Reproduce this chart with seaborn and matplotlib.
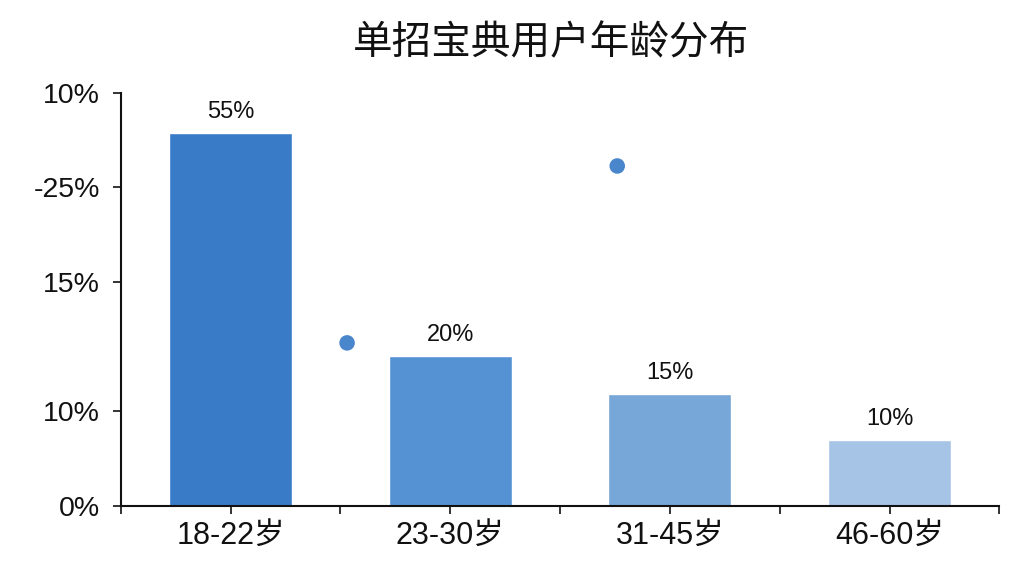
import matplotlib
matplotlib.use("Agg")
import matplotlib.pyplot as plt
import numpy as np
import pandas as pd
import seaborn as sns

# categories and values
age_groups = ["18-22岁", "23-30岁", "31-45岁", "46-60岁"]
bar_heights = [54.2, 21.8, 16.3, 9.6]
bar_labels = ["55%", "20%", "15%", "10%"]
bar_colors = ["#3a7bc8", "#5592d4", "#77a6d8", "#a6c4e6"]

# stray dots
dot_x = [0.53, 1.76]
dot_y = [23.7, 49.4]

# y ticks (positions on the drawn scale and their printed labels)
ytick_pos = [0, 13.8, 32.5, 46.3, 60]
ytick_labels = ["0%", "10%", "15%", "-25%", "10%"]

sns.set_theme(style="white")
plt.rcParams["font.family"] = ["Liberation Sans", "Noto Sans CJK SC", "DejaVu Sans"]

fig = plt.figure(figsize=(10.24, 5.76), dpi=100)
ax = fig.add_axes([0.118, 0.1215, 0.858, 0.717])

df = pd.DataFrame({"age": age_groups, "share": bar_heights})
sns.barplot(data=df, x="age", y="share", hue="age", palette=bar_colors,
            width=0.56, legend=False, ax=ax, saturation=1)

for i, (h, lab) in enumerate(zip(bar_heights, bar_labels)):
    ax.text(i, h + 1.4, lab, ha="center", va="bottom", fontsize=17, color="#111111")

sns.scatterplot(x=dot_x, y=dot_y, color="#4a86cc", s=125, edgecolor="none", ax=ax)

ax.set_xlim(-0.5, 3.5)
ax.set_ylim(0, 60)
ax.set_yticks(ytick_pos)
ax.set_yticklabels(ytick_labels)
ax.set_xticks(range(len(age_groups)))
ax.set_xticklabels(age_groups)
ax.set_xticks(np.arange(-0.5, 4.0, 1.0), minor=True)
ax.set_xlabel("")
ax.set_ylabel("")

ax.tick_params(axis="y", labelsize=20.5, length=6, width=1.2, direction="out",
               left=True, colors="#111111", pad=9)
ax.tick_params(axis="x", which="major", labelsize=22, length=6, width=1.2,
               bottom=True, colors="#111111", pad=5)
ax.tick_params(axis="x", which="minor", length=6, width=1.2, bottom=True, color="#111111")

for side in ["top", "right"]:
    ax.spines[side].set_visible(False)
for side in ["left", "bottom"]:
    ax.spines[side].set_color("#111111")
    ax.spines[side].set_linewidth(1.5)

fig.text(0.538, 0.925, "单招宝典用户年龄分布", ha="center", va="center",
         fontsize=28.5, fontweight="medium", color="#111111",
         family=["Noto Sans CJK SC", "DejaVu Sans"])

fig.savefig("out.png", dpi=100, facecolor="white")
